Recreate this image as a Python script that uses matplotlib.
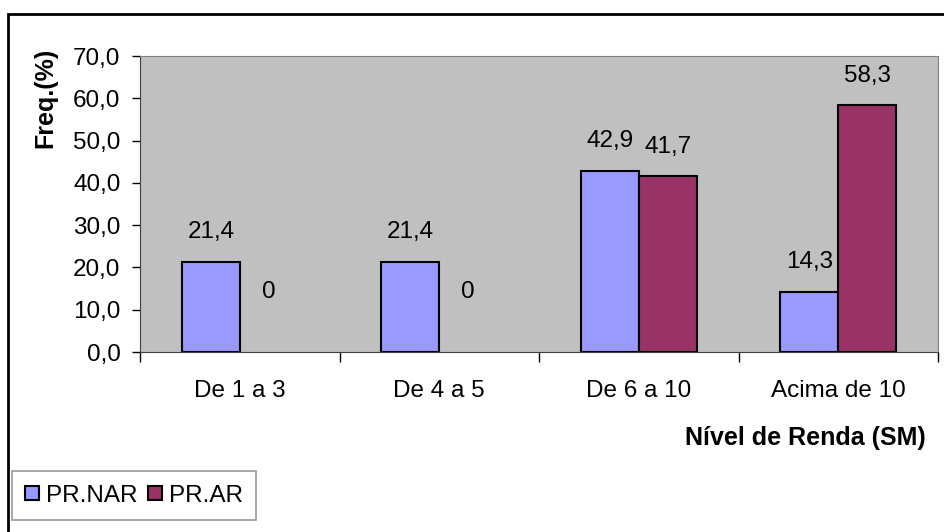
import matplotlib.pyplot as plt
from matplotlib.patches import Rectangle

plt.rcParams['font.family'] = ['Liberation Sans', 'DejaVu Sans']

categorias = ["De 1 a 3", "De 4 a 5", "De 6 a 10", "Acima de 10"]
pr_nar = [21.4, 21.4, 42.9, 14.3]
pr_ar = [0.0, 0.0, 41.7, 58.3]
series = ["PR.NAR", "PR.AR"]
yticks = [0, 10, 20, 30, 40, 50, 60, 70]

cor_nar = "#9999FF"
cor_ar = "#993366"
fs = 17.5

fig = plt.figure(figsize=(9.44, 5.32), dpi=100)
ax = fig.add_axes([140 / 944, 1 - 352 / 532, 798 / 944, 296 / 532])
ax.set_facecolor("#C0C0C0")

x = list(range(len(categorias)))
w = 0.29
b1 = ax.bar([i - w / 2 for i in x], pr_nar, w, color=cor_nar, edgecolor="black",
            linewidth=[1.5 if v > 0 else 0 for v in pr_nar], label=series[0])
b2 = ax.bar([i + w / 2 for i in x], pr_ar, w, color=cor_ar, edgecolor="black",
            linewidth=[1.5 if v > 0 else 0 for v in pr_ar], label=series[1])

# rotulos dos valores
for bars, vals in [(b1, pr_nar), (b2, pr_ar)]:
    for r, v in zip(bars, vals):
        txt = ("%.1f" % v).replace(".", ",") if v > 0 else "0"
        off = 21 if v > 0 else 43
        ax.annotate(txt, (r.get_x() + r.get_width() / 2, v), xytext=(0, off),
                    textcoords="offset points", ha="center", va="center", fontsize=fs)

ax.set_xlim(-0.5, len(categorias) - 0.5)
ax.set_ylim(0, 70)
ax.set_yticks(yticks)
ax.set_yticklabels([("%.1f" % t).replace(".", ",") for t in yticks], fontsize=fs)
ax.set_xticks(x)
ax.set_xticklabels(categorias, fontsize=fs)
ax.set_xticks([i - 0.5 for i in range(len(categorias) + 1)], minor=True)
ax.tick_params(axis="x", which="major", length=0, pad=20)
ax.tick_params(axis="x", which="minor", length=7, width=1, color="black")
ax.tick_params(axis="y", length=6, width=1, pad=8, color="black")

for s in ["top", "right"]:
    ax.spines[s].set_color("#808080")
for s in ["left", "bottom"]:
    ax.spines[s].set_color("#404040")

fig.text(45 / 944, 1 - 98 / 532, "Freq.(%)", rotation=90, ha="center", va="center",
         fontsize=18, fontweight="bold")
fig.text(805 / 944, 1 - 438 / 532, "Nível de Renda (SM)", ha="center", va="center",
         fontsize=18, fontweight="bold")

leg = fig.legend(loc="lower left", bbox_to_anchor=(12 / 944, 1 - 520 / 532), ncol=2,
                 fontsize=fs, frameon=True, fancybox=False, handlelength=0.55, handleheight=0.55,
                 handletextpad=0.3, columnspacing=0.45, borderpad=0.55, borderaxespad=0)
leg.get_frame().set_edgecolor("#808080")
leg.get_frame().set_linewidth(1.2)
for h in leg.legend_handles:
    h.set_edgecolor("black")
    h.set_linewidth(1.5)

# moldura externa
fig.patches.append(Rectangle((8 / 944, -0.1), 1.2, 0.1 + 1 - 14 / 532, transform=fig.transFigure,
                             fill=False, edgecolor="black", linewidth=2))

fig.savefig("out.png", dpi=100)
